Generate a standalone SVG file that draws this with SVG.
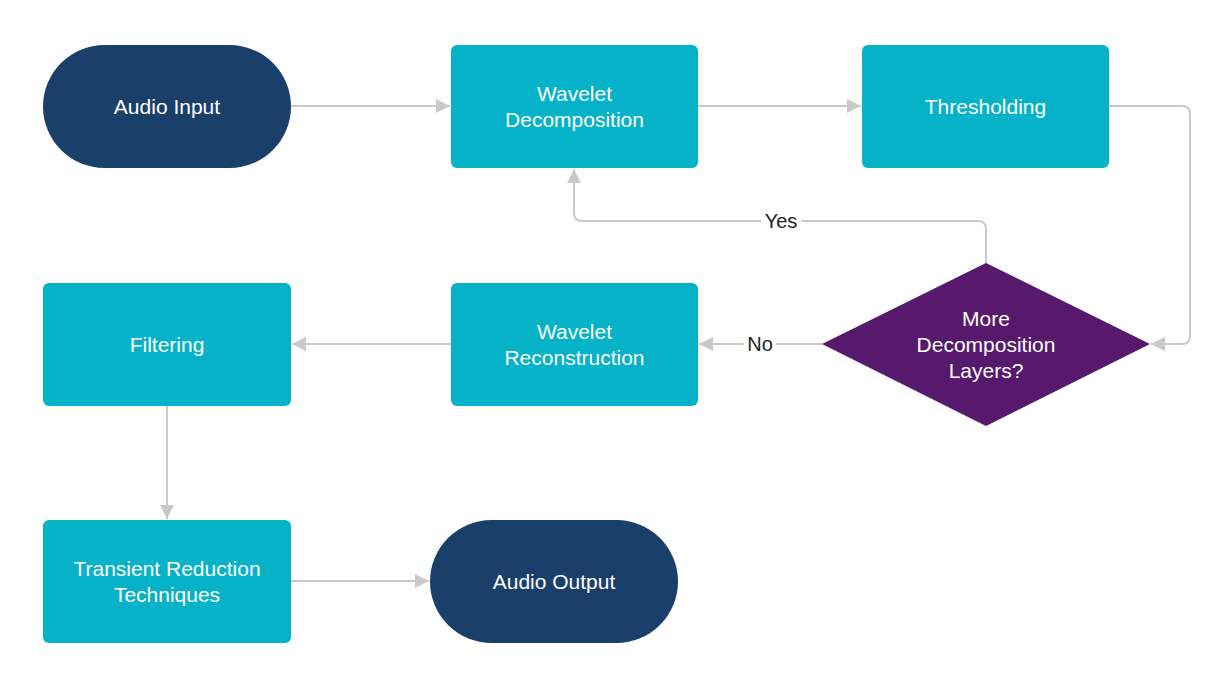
<svg xmlns="http://www.w3.org/2000/svg" width="1225" height="680" viewBox="0 0 1225 680">
<style>
.term{fill:#1a3f6b}
.proc{fill:#06b2c8}
.dec{fill:#56196b}
.t{font-family:"Liberation Sans",Arial,sans-serif;font-size:21px;fill:#ffffff;text-anchor:middle;dominant-baseline:central}
.lbl{font-family:"Liberation Sans",Arial,sans-serif;font-size:20px;fill:#222222;text-anchor:middle;dominant-baseline:central}
.c{fill:none;stroke:#c9c9c9;stroke-width:2}
</style>
<defs>
<marker id="ah" viewBox="0 0 10 10" refX="10" refY="5" markerWidth="15" markerHeight="14" markerUnits="userSpaceOnUse" orient="auto">
<path d="M0,0 L10,5 L0,10 Z" fill="#c9c9c9"/>
</marker>
</defs>
<rect width="1225" height="680" fill="#ffffff"/>
<g id="connectors">
<path class="c" d="M291,106 H450" marker-end="url(#ah)"/>
<path class="c" d="M698,106 H861" marker-end="url(#ah)"/>
<path class="c" d="M1109,106 H1182 Q1190,106 1190,114 V336 Q1190,344 1182,344 H1151" marker-end="url(#ah)"/>
<path class="c" d="M986,263 V229 Q986,221 978,221 H582 Q574,221 574,213 V169" marker-end="url(#ah)"/>
<path class="c" d="M822,344 H699" marker-end="url(#ah)"/>
<path class="c" d="M451,344 H292" marker-end="url(#ah)"/>
<path class="c" d="M167,406 V519" marker-end="url(#ah)"/>
<path class="c" d="M291,581 H429" marker-end="url(#ah)"/>
<rect x="761" y="209" width="40" height="24" fill="#ffffff"/>
<text class="lbl" x="781" y="221">Yes</text>
<rect x="744" y="332" width="32" height="24" fill="#ffffff"/>
<text class="lbl" x="760" y="344">No</text>
</g>
<g id="audio-input">
<rect class="term" x="43" y="45" width="248" height="123" rx="61.5"/>
<text class="t" x="167" y="106">Audio Input</text>
</g>
<g id="wavelet-decomposition">
<rect class="proc" x="451" y="45" width="247" height="123" rx="6"/>
<text class="t" x="574.5" y="93">Wavelet</text>
<text class="t" x="574.5" y="119">Decomposition</text>
</g>
<g id="thresholding">
<rect class="proc" x="862" y="45" width="247" height="123" rx="6"/>
<text class="t" x="985.5" y="106">Thresholding</text>
</g>
<g id="more-layers">
<path class="dec" d="M986,263 L1150,344 L986,426 L822,344 Z"/>
<text class="t" x="986" y="318">More</text>
<text class="t" x="986" y="344">Decomposition</text>
<text class="t" x="986" y="370">Layers?</text>
</g>
<g id="wavelet-reconstruction">
<rect class="proc" x="451" y="283" width="247" height="123" rx="6"/>
<text class="t" x="574.5" y="331">Wavelet</text>
<text class="t" x="574.5" y="357">Reconstruction</text>
</g>
<g id="filtering">
<rect class="proc" x="43" y="283" width="248" height="123" rx="6"/>
<text class="t" x="167" y="344">Filtering</text>
</g>
<g id="transient-reduction">
<rect class="proc" x="43" y="520" width="248" height="123" rx="6"/>
<text class="t" x="167" y="568">Transient Reduction</text>
<text class="t" x="167" y="594">Techniques</text>
</g>
<g id="audio-output">
<rect class="term" x="430" y="520" width="248" height="123" rx="61.5"/>
<text class="t" x="554" y="581">Audio Output</text>
</g>
</svg>
